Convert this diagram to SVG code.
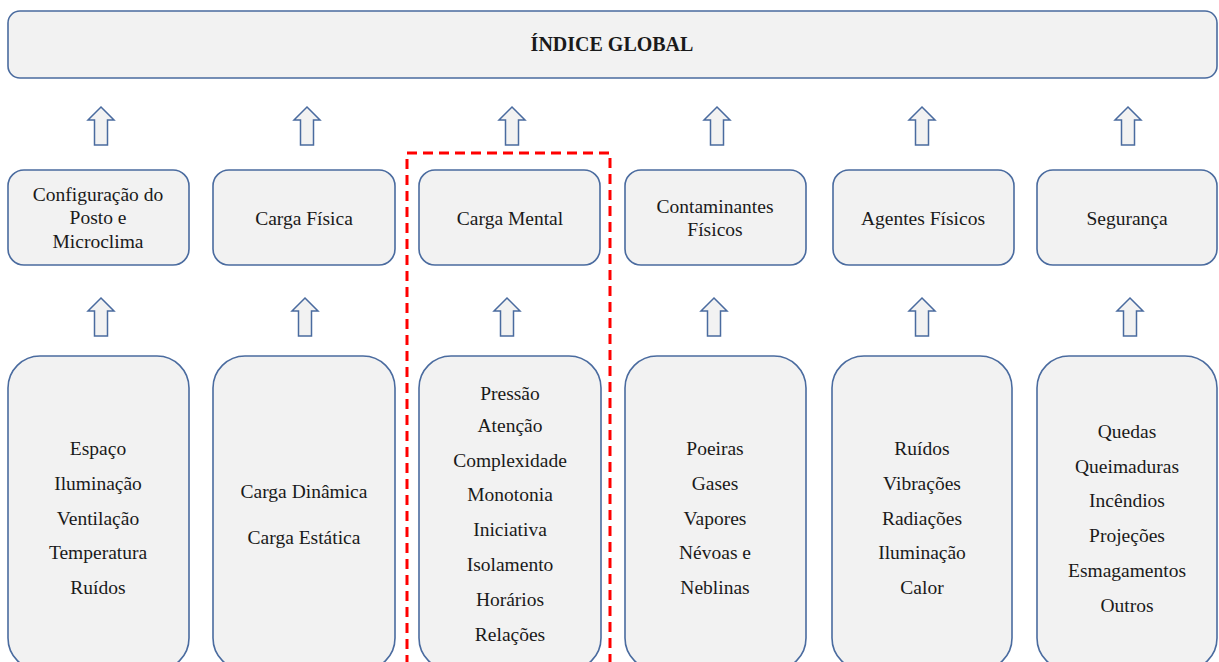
<svg xmlns="http://www.w3.org/2000/svg" width="1219" height="662" viewBox="0 0 1219 662">
<style>
.box{fill:#f2f2f2;stroke:#4a6b9f;stroke-width:1.6}
.arr{fill:#f2f2f2;stroke:#4a6b9f;stroke-width:1.5;stroke-linejoin:miter}
text{font-family:'Liberation Serif','Tinos','Times New Roman','DejaVu Serif','Noto Serif',serif;font-size:19.5px;fill:#1a1a1a;text-anchor:middle}
.title{font-weight:bold;font-size:20px}
.hl{fill:none;stroke:#ff0000;stroke-width:3;stroke-dasharray:10 6}
</style>
<defs>
<path id="up" d="M0,0 L13,13 L6.5,13 L6.5,38 L-6.5,38 L-6.5,13 L-13,13 Z"/>
</defs>
<rect width="1219" height="662" fill="#ffffff"/>
<g id="global">
<rect class="box" x="8" y="11" width="1209" height="67" rx="12"/>
<text class="title" x="612" y="51" font-family="Liberation Serif, serif">ÍNDICE GLOBAL</text>
</g>
<g id="connectors">
<use href="#up" class="arr" x="101" y="107"/>
<use href="#up" class="arr" x="307" y="107"/>
<use href="#up" class="arr" x="512" y="107"/>
<use href="#up" class="arr" x="717" y="107"/>
<use href="#up" class="arr" x="922" y="107"/>
<use href="#up" class="arr" x="1128" y="107"/>
<use href="#up" class="arr" x="101" y="298"/>
<use href="#up" class="arr" x="305" y="298"/>
<use href="#up" class="arr" x="507" y="298"/>
<use href="#up" class="arr" x="714" y="298"/>
<use href="#up" class="arr" x="922" y="298"/>
<use href="#up" class="arr" x="1130" y="298"/>
</g>
<g id="cat1">
<rect class="box" x="8" y="170" width="181" height="95" rx="16"/>
<text x="98" y="201">Configuração do</text>
<text x="98" y="224">Posto e</text>
<text x="98" y="248">Microclima</text>
</g>
<g id="cat2">
<rect class="box" x="213" y="170" width="182" height="95" rx="16"/>
<text x="304" y="225">Carga Física</text>
</g>
<g id="cat3">
<rect class="box" x="419" y="170" width="181" height="95" rx="16"/>
<text x="510" y="225">Carga Mental</text>
</g>
<g id="cat4">
<rect class="box" x="625" y="170" width="181" height="95" rx="16"/>
<text x="715" y="213">Contaminantes</text>
<text x="715" y="236">Físicos</text>
</g>
<g id="cat5">
<rect class="box" x="833" y="170" width="181" height="95" rx="16"/>
<text x="923" y="225">Agentes Físicos</text>
</g>
<g id="cat6">
<rect class="box" x="1037" y="170" width="180" height="95" rx="16"/>
<text x="1127" y="225">Segurança</text>
</g>
<g id="items1">
<rect class="box" x="8" y="356" width="181" height="314" rx="32"/>
<text x="98" y="455">Espaço</text>
<text x="98" y="490">Iluminação</text>
<text x="98" y="525">Ventilação</text>
<text x="98" y="559">Temperatura</text>
<text x="98" y="594">Ruídos</text>
</g>
<g id="items2">
<rect class="box" x="213" y="356" width="182" height="314" rx="32"/>
<text x="304" y="498">Carga Dinâmica</text>
<text x="304" y="544">Carga Estática</text>
</g>
<g id="items3">
<rect class="box" x="419" y="356" width="182" height="314" rx="32"/>
<text x="510" y="400">Pressão</text>
<text x="510" y="432">Atenção</text>
<text x="510" y="467">Complexidade</text>
<text x="510" y="501">Monotonia</text>
<text x="510" y="536">Iniciativa</text>
<text x="510" y="571">Isolamento</text>
<text x="510" y="606">Horários</text>
<text x="510" y="641">Relações</text>
</g>
<g id="items4">
<rect class="box" x="625" y="356" width="181" height="314" rx="32"/>
<text x="715" y="455">Poeiras</text>
<text x="715" y="490">Gases</text>
<text x="715" y="525">Vapores</text>
<text x="715" y="559">Névoas e</text>
<text x="715" y="594">Neblinas</text>
</g>
<g id="items5">
<rect class="box" x="832" y="356" width="180" height="314" rx="32"/>
<text x="922" y="455">Ruídos</text>
<text x="922" y="490">Vibrações</text>
<text x="922" y="525">Radiações</text>
<text x="922" y="559">Iluminação</text>
<text x="922" y="594">Calor</text>
</g>
<g id="items6">
<rect class="box" x="1037" y="356" width="180" height="314" rx="32"/>
<text x="1127" y="438">Quedas</text>
<text x="1127" y="473">Queimaduras</text>
<text x="1127" y="507">Incêndios</text>
<text x="1127" y="542">Projeções</text>
<text x="1127" y="577">Esmagamentos</text>
<text x="1127" y="612">Outros</text>
</g>
<g id="highlight">
<path class="hl" d="M407,665 L407,153 L610,153 L610,665"/>
</g>
</svg>
